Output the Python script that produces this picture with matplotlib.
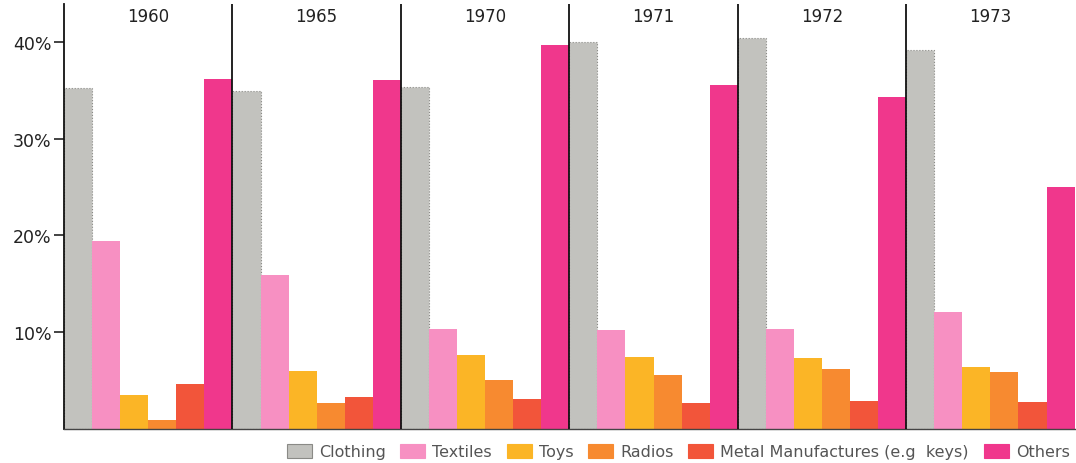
import numpy as np
import matplotlib
matplotlib.use("Agg")
import matplotlib.pyplot as plt

years = ["1960", "1965", "1970", "1971", "1972", "1973"]
categories = ["Clothing", "Textiles", "Toys", "Radios", "Metal Manufactures (e.g  keys)", "Others"]

clothing = [35.2, 34.9, 35.3, 40.0, 40.4, 39.1]
textiles = [19.4, 15.9, 10.3, 10.2, 10.3, 12.1]
toys = [3.5, 6.0, 7.6, 7.4, 7.3, 6.4]
radios = [0.9, 2.7, 5.1, 5.6, 6.2, 5.9]
metal = [4.6, 3.3, 3.1, 2.7, 2.9, 2.8]
others = [36.2, 36.0, 39.7, 35.5, 34.3, 25.0]

series = [clothing, textiles, toys, radios, metal, others]
colors = ["#c2c2be", "#f790c2", "#fbb526", "#f78a30", "#f2553a", "#f0378c"]

fig = plt.figure(figsize=(10.76, 4.64), dpi=100)
ax = fig.add_axes([0.0595, 0.0733, 0.9405, 0.916])

n = len(categories)
for j, (vals, col) in enumerate(zip(series, colors)):
    x = np.arange(len(years)) * n + j + 0.5
    if j == 0:
        # clothing bars have a faint dotted outline
        ax.bar(x, vals, width=1.0, color=col, edgecolor="#8a8a86",
               linewidth=0.8, linestyle=":", zorder=2)
    else:
        ax.bar(x, vals, width=1.0, color=col, linewidth=0, zorder=2)

for i in range(1, len(years)):
    ax.axvline(i * n, color="#111111", linewidth=1.3, zorder=3)

for i, yr in enumerate(years):
    ax.text(i * n + n / 2, 0.972, yr, transform=ax.get_xaxis_transform(),
            ha="center", va="center", fontsize=12, color="#222222")

ax.set_xlim(0, 36.05)
ax.set_ylim(0, 43.9)
ax.set_yticks([10, 20, 30, 40])
ax.set_yticklabels(["10%", "20%", "30%", "40%"], fontsize=12.5, color="#222222")
ax.set_xticks([])
ax.tick_params(axis="y", direction="out", length=7, width=1.2, color="#222222", pad=2)
for s in ["top", "right"]:
    ax.spines[s].set_visible(False)
ax.spines["left"].set_color("#111111")
ax.spines["left"].set_linewidth(1.3)
ax.spines["bottom"].set_color("#444444")
ax.spines["bottom"].set_linewidth(1.0)

handles = [plt.Rectangle((0, 0), 1, 1, facecolor=c, edgecolor="#8a8a86" if k == 0 else c,
                         linewidth=0.8) for k, c in enumerate(colors)]
fig.legend(handles, categories, loc="center left", bbox_to_anchor=(0.2665, 0.025), ncol=6,
           frameon=False, fontsize=11.5, handlelength=1.55, handleheight=1.0,
           handletextpad=0.45, columnspacing=0.93, borderaxespad=0, borderpad=0,
           labelcolor="#555555")

fig.savefig("out.png", dpi=100)
